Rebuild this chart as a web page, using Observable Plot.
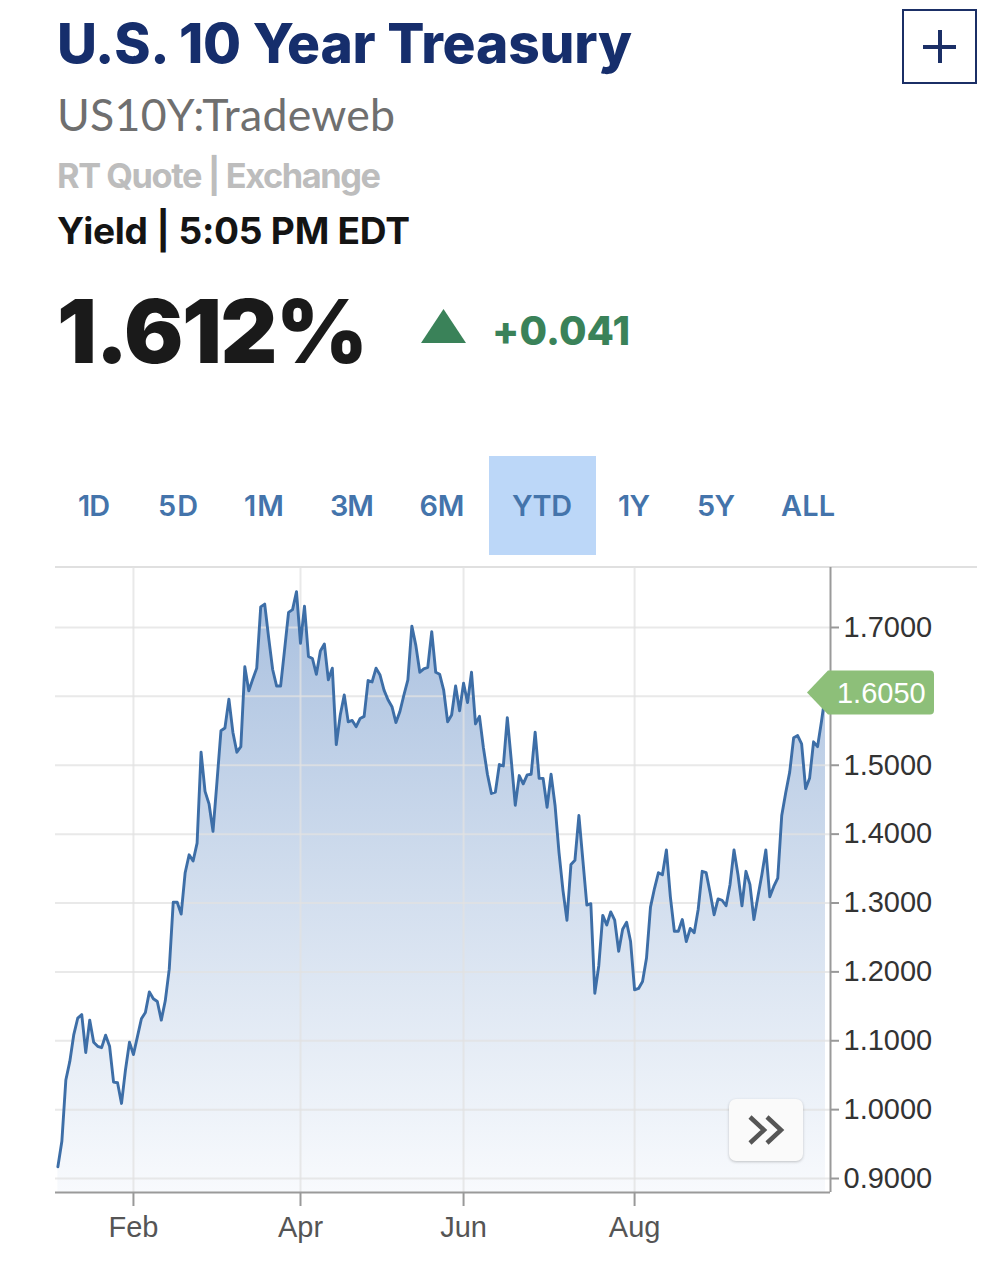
<!DOCTYPE html>
<html>
<head>
<meta charset="utf-8">
<script src="https://cdn.jsdelivr.net/npm/d3@7"></script>
<script src="https://cdn.jsdelivr.net/npm/@observablehq/plot@0.6"></script>
<style>
  html, body { margin:0; padding:0; background:#fff; width:993px; height:1280px; overflow:hidden; position:relative; }
  .t { position:absolute; white-space:nowrap; line-height:1; }
</style>
</head>
<body>
<script>
// ---------------- DATA ----------------
// Daily 10Y yield (%), trading days from Jan 4 to Oct 8 (index = trading day)
const yields = [
  0.917, 0.954, 1.043, 1.070, 1.109, 1.133, 1.138, 1.083, 1.130, 1.098,
  1.092, 1.090, 1.108, 1.092, 1.040, 1.039, 1.009, 1.058, 1.098, 1.080,
  1.106, 1.132, 1.141, 1.171, 1.161, 1.157, 1.130, 1.158, 1.204, 1.301,
  1.301, 1.284, 1.344, 1.370, 1.361, 1.387, 1.519, 1.462, 1.444, 1.404,
  1.476, 1.550, 1.554, 1.596, 1.548, 1.519, 1.527, 1.643, 1.608, 1.625,
  1.641, 1.730, 1.734, 1.685, 1.639, 1.615, 1.615, 1.668, 1.722, 1.726,
  1.752, 1.677, 1.731, 1.658, 1.655, 1.632, 1.666, 1.676, 1.624, 1.641,
  1.530, 1.573, 1.602, 1.563, 1.565, 1.556, 1.568, 1.571, 1.623, 1.621,
  1.641, 1.631, 1.609, 1.595, 1.585, 1.562, 1.578, 1.602, 1.624, 1.702,
  1.674, 1.635, 1.640, 1.642, 1.694, 1.635, 1.632, 1.609, 1.563, 1.573,
  1.615, 1.579, 1.619, 1.591, 1.635, 1.560, 1.571, 1.525, 1.487, 1.459,
  1.461, 1.501, 1.499, 1.569, 1.507, 1.442, 1.485, 1.473, 1.486, 1.487,
  1.548, 1.481, 1.481, 1.439, 1.487, 1.442, 1.373, 1.318, 1.275, 1.356,
  1.362, 1.427, 1.362, 1.297, 1.299, 1.169, 1.209, 1.282, 1.268, 1.287,
  1.275, 1.230, 1.262, 1.272, 1.244, 1.174, 1.176, 1.186, 1.220, 1.294,
  1.321, 1.344, 1.341, 1.377, 1.309, 1.259, 1.259, 1.276, 1.244, 1.263,
  1.257, 1.291, 1.346, 1.344, 1.315, 1.283, 1.306, 1.304, 1.296, 1.327,
  1.377, 1.341, 1.296, 1.346, 1.327, 1.276, 1.309, 1.341, 1.377, 1.309,
  1.324, 1.336, 1.427, 1.460, 1.490, 1.540, 1.543, 1.531, 1.466, 1.481,
  1.534, 1.527, 1.564, 1.605
];
const monthTickIndex = [19, 61, 102, 145];
const monthLabels = ["Feb", "Apr", "Jun", "Aug"];
const yGrid = [0.9, 1.0, 1.1, 1.2, 1.3, 1.4, 1.5, 1.6, 1.7];
const yLabelTicks = [0.9, 1.0, 1.1, 1.2, 1.3, 1.4, 1.5, 1.7]; // 1.6 hidden under the quote tag
const lastQuote = 1.6050;
const tabs = ["1D", "5D", "1M", "3M", "6M", "YTD", "1Y", "5Y", "ALL"];
const titleText = "U.S. 10 Year Treasury";
const symbolText = "US10Y:Tradeweb";
const quoteText = "RT Quote | Exchange";
const timeText = "Yield | 5:05 PM EDT";
const priceText = "1.612%";
const changeText = "+0.041";

// ---------------- LAYOUT ----------------
const tabCenters = [94, 178, 264, 352, 442, 542, 634, 716, 808];
const tabWidths = [32, 40, 40, 44, 45, 60, 32, 38, 54];
const yMin = 0.8797, yMax = 1.7871;
const xMin = -0.6, xMax = 194.26;
const HEAD = "Inter, Lato, 'Noto Sans', sans-serif";
const BODY = "Lato, 'Noto Sans', sans-serif";

function placeText(str, o) {
  const el = document.createElement("div");
  el.className = "t";
  el.textContent = str;
  el.style.fontFamily = o.family || BODY;
  el.style.fontWeight = o.weight || 400;
  el.style.fontSize = (o.cap / (o.capRatio || 0.7165)) + "px";
  el.style.color = o.color;
  el.style.left = "0px"; el.style.top = "0px";
  const mark = document.createElement("span");
  mark.style.cssText = "display:inline-block;width:0;height:0;vertical-align:baseline;";
  el.appendChild(mark);
  document.body.appendChild(el);
  let w = el.getBoundingClientRect().width;
  if (o.width) {
    const ls = (o.width - w) / Math.max(1, str.length - 1);
    el.style.letterSpacing = ls + "px";
    w = o.width;
  }
  const r = el.getBoundingClientRect();
  const baseOff = mark.getBoundingClientRect().bottom - r.top;
  const left = o.center != null ? o.center - w / 2 : o.left;
  el.style.left = left + "px";
  el.style.top = (o.baseline - baseOff) + "px";
  return el;
}

// Header
placeText(titleText, {left: 57, baseline: 63, cap: 40, width: 575, weight: 800, family: HEAD, capRatio: 0.727, color: "#162e6c"});
placeText(symbolText, {left: 57, baseline: 131, cap: 32, width: 338, weight: 400, color: "#6f6f6f"});
placeText(quoteText, {left: 57, baseline: 188, cap: 25, width: 324, weight: 700, family: HEAD, capRatio: 0.727, color: "#bdbdbd"});
placeText(timeText, {left: 57, baseline: 244, cap: 27, width: 353, weight: 700, family: HEAD, capRatio: 0.727, color: "#141414"});
placeText(priceText, {left: 57, baseline: 363, cap: 64, width: 311, weight: 900, family: HEAD, capRatio: 0.727, color: "#1a1a1a"});
placeText(changeText, {left: 492, baseline: 345, cap: 29, width: 138, weight: 800, family: HEAD, capRatio: 0.727, color: "#3a8259"});

// Up triangle
const tri = document.createElementNS("http://www.w3.org/2000/svg", "svg");
tri.setAttribute("width", 993); tri.setAttribute("height", 400);
tri.style.cssText = "position:absolute;left:0;top:0;pointer-events:none;";
tri.innerHTML = '<polygon points="421,343 466,343 443.5,309" fill="#3a8259"/>';
document.body.appendChild(tri);

// + button
const plus = document.createElement("div");
plus.style.cssText = "position:absolute;left:902px;top:9px;width:71px;height:71px;border:2.5px solid #1b2f66;";
plus.innerHTML = '<div style="position:absolute;left:19px;top:33.5px;width:33px;height:4px;background:#1b2f66"></div>' +
                 '<div style="position:absolute;left:33.5px;top:19px;width:4px;height:33px;background:#1b2f66"></div>';
document.body.appendChild(plus);

// Tabs
const hl = document.createElement("div");
hl.style.cssText = "position:absolute;left:489px;top:456px;width:107px;height:99px;background:#bcd7f8;";
document.body.appendChild(hl);
tabs.forEach((t, k) => {
  placeText(t, {center: tabCenters[k], baseline: 516, cap: 21, width: tabWidths[k], weight: 600, family: HEAD, capRatio: 0.727, color: "#4474ab"});
});

// top separator
const sep = document.createElement("div");
sep.style.cssText = "position:absolute;left:55px;top:566px;width:922px;height:2px;background:#e0e0e0;";
document.body.appendChild(sep);

// ---------------- CHART ----------------
const data = yields.map((v, i) => ({i, v}));

const chart = Plot.plot({
  width: 993,
  height: 720,
  marginLeft: 55,
  marginRight: 163,
  marginTop: 7,
  marginBottom: 88,
  style: {
    background: "transparent",
    fontFamily: "'Liberation Sans', Arial, sans-serif",
    fontSize: "29px",
    color: "#333",
    overflow: "visible"
  },
  x: {
    domain: [xMin, xMax],
    ticks: monthTickIndex,
    tickFormat: d => monthLabels[monthTickIndex.indexOf(d)],
    tickSize: 14,
    tickPadding: 10,
    label: null
  },
  y: {
    domain: [yMin, yMax],
    ticks: yLabelTicks,
    tickFormat: d => d.toFixed(4),
    tickSize: 8,
    tickPadding: 5,
    axis: "right",
    label: null
  },
  marks: [
    Plot.areaY(data, {x: "i", y1: () => yMin, y2: "v", fill: "url(#ytdFill)"}),
    Plot.ruleY(yGrid, {stroke: "#e2e2e2", strokeOpacity: 0.75, strokeWidth: 2}),
    Plot.ruleX(monthTickIndex, {stroke: "#e2e2e2", strokeOpacity: 0.75, strokeWidth: 2}),
    Plot.lineY(data, {x: "i", y: "v", stroke: "#3d6ea7", strokeWidth: 2.9, strokeLinejoin: "round"}),
    Plot.ruleY([yMin], {stroke: "#9a9a9a", strokeWidth: 2}),
    Plot.ruleX([xMax], {stroke: "#9a9a9a", strokeWidth: 2})
  ]
});
chart.style.position = "absolute";
chart.style.left = "0px";
chart.style.top = "560px";
document.body.appendChild(chart);

const svg = d3.select(chart);
const ys = chart.scale("y"), xs = chart.scale("x");

// gradient for area
const defs = svg.insert("defs", ":first-child");
const lg = defs.append("linearGradient").attr("id", "ytdFill")
  .attr("gradientUnits", "userSpaceOnUse")
  .attr("x1", 0).attr("x2", 0)
  .attr("y1", ys.apply(d3.max(yields))).attr("y2", ys.apply(yMin));
lg.append("stop").attr("offset", 0).attr("stop-color", "#a9c0df");
lg.append("stop").attr("offset", 0.5).attr("stop-color", "#d2deee");
lg.append("stop").attr("offset", 1).attr("stop-color", "#f8fafd");

// axis styling
chart.querySelectorAll('[aria-label*="axis"] line, [aria-label*="axis"] path').forEach(n => {
  n.setAttribute("stroke", "#999"); n.style.stroke = "#999"; n.setAttribute("stroke-width", 2);
});
chart.querySelectorAll('[aria-label*="x-axis"] text').forEach(n => n.setAttribute("fill", "#555"));

// last-quote tag (tick mark for 1.6 sits under it)
const yq = ys.apply(lastQuote);
const xt = xs.apply(yields.length - 1) - 18;
svg.append("path")
  .attr("d", `M${xt},${yq} L${xt + 21},${yq - 22} H${xt + 123} a4,4 0 0 1 4,4 V${yq + 18} a4,4 0 0 1 -4,4 H${xt + 21} Z`)
  .attr("fill", "#8dbf79");
svg.append("text")
  .attr("x", xt + 30).attr("y", yq).attr("dy", "0.36em")
  .attr("text-anchor", "start")
  .attr("fill", "#fff").attr("font-size", 29)
  .attr("font-family", "'Liberation Sans', Arial, sans-serif")
  .text(lastQuote.toFixed(4));

// ">>" button
const btn = document.createElement("div");
btn.style.cssText = "position:absolute;left:729px;top:1099px;width:74px;height:62px;border-radius:7px;background:#fafafa;box-shadow:0 1px 3px rgba(0,0,0,0.22);";
btn.innerHTML = '<svg width="74" height="62" style="position:absolute;left:0;top:0">' +
  '<polyline points="21,18 35,31 21,44" fill="none" stroke="#555" stroke-width="4.5"/>' +
  '<polyline points="38,18 52,31 38,44" fill="none" stroke="#555" stroke-width="4.5"/></svg>';
document.body.appendChild(btn);
</script>
</body>
</html>
